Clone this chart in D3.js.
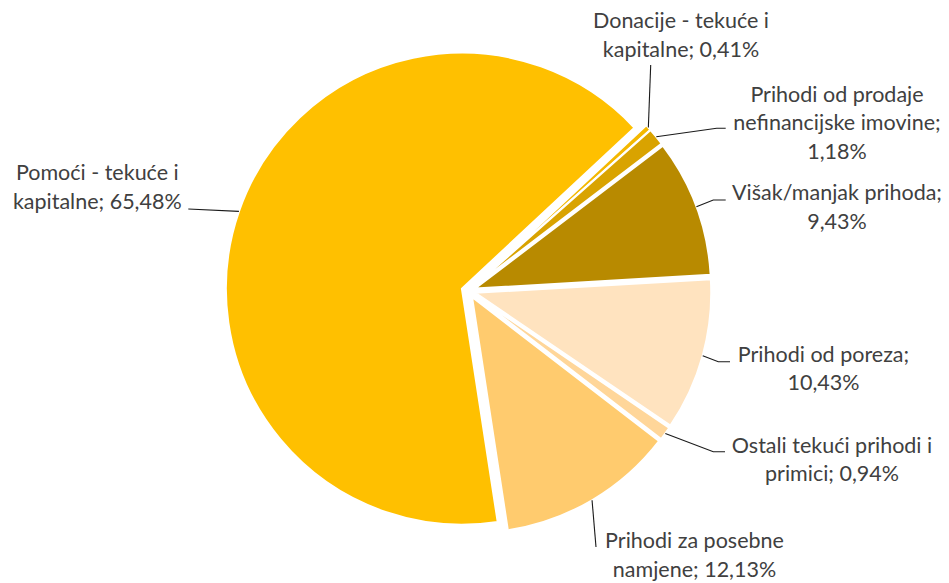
<!DOCTYPE html>
<html>
<head>
<meta charset="utf-8">
<script src="https://cdn.jsdelivr.net/npm/d3@7"></script>
<style>
  html, body { margin: 0; padding: 0; background: #fff; }
  svg { display: block; }
</style>
</head>
<body>
<svg id="chart" width="949" height="583"></svg>
<script>
// ---- data ----
const categories = [
  "Donacije - tekuće i kapitalne",
  "Prihodi od prodaje nefinancijske imovine",
  "Višak/manjak prihoda",
  "Prihodi od poreza",
  "Ostali tekući prihodi i primici",
  "Prihodi za posebne namjene",
  "Pomoći - tekuće i kapitalne"
];
const values = [0.41, 1.18, 9.43, 10.43, 0.94, 12.13, 65.48];
const colors = ["#F4B800", "#D9A300", "#B88A00", "#FFE3BF", "#FFD699", "#FFCB6E", "#FFC000"];
// words per label line
const lineBreaks = [[4, 2], [3, 2, 1], [2, 1], [3, 1], [4, 2], [3, 2], [4, 2]];

// ---- layout (not data) ----
const cx = 468.5, cy = 291, R = 236, explode = 7;
const startDeg = 47;
const labelAnchor = [
  [681, 28.3], [837, 101.7], [837, 200], [823.5, 361.7], [832, 452.7], [694.5, 548.3], [97.3, 180]
];
const leaderEnds = [
  [[650.7, 65]],
  [[716.7, 128.3], [725.7, 128.3]],
  [[713.3, 200], [725.7, 200]],
  [[718.3, 361.7], [730, 361.7]],
  [[713.3, 451.7], [725, 451.7]],
  [[596, 547]],
  [[188.3, 209]]
];
const lineH = 28.6;

const svg = d3.select("#chart");
const pie = d3.pie().sort(null).value(d => d)
  .startAngle(startDeg * Math.PI / 180)
  .endAngle(startDeg * Math.PI / 180 + 2 * Math.PI);
const arcs = pie(values);
const arc = d3.arc().innerRadius(0).outerRadius(R);

const g = svg.append("g").attr("transform", `translate(${cx},${cy})`);

arcs.forEach((a, i) => {
  const mid = (a.startAngle + a.endAngle) / 2;
  const ox = explode * Math.sin(mid), oy = -explode * Math.cos(mid);
  g.append("path")
    .attr("d", arc(a))
    .attr("transform", `translate(${ox},${oy})`)
    .attr("fill", colors[i])
    .attr("stroke", "#fff")
    .attr("stroke-width", 2)
    .attr("stroke-linejoin", "round");
});

const fmt = v => v.toFixed(2).replace(".", ",") + "%";
const line = d3.line();

arcs.forEach((a, i) => {
  const mid = (a.startAngle + a.endAngle) / 2;
  const rr = R + explode;
  const sx = cx + rr * Math.sin(mid), sy = cy - rr * Math.cos(mid);
  const pts = [[sx, sy]].concat(leaderEnds[i]);
  svg.append("path")
    .attr("d", line(pts))
    .attr("fill", "none")
    .attr("stroke", "#1a1a1a")
    .attr("stroke-width", 1.1);

  const words = (categories[i] + "; " + fmt(values[i])).split(" ");
  let k = 0;
  const lines = lineBreaks[i].map(n => { const s = words.slice(k, k + n).join(" "); k += n; return s; });
  const t = svg.append("text")
    .attr("text-anchor", "middle")
    .attr("font-family", "Lato, 'Open Sans', sans-serif")
    .attr("font-size", 21.5)
    .attr("fill", "#404040");
  lines.forEach((s, j) => {
    t.append("tspan")
      .attr("x", labelAnchor[i][0])
      .attr("y", labelAnchor[i][1] + j * lineH)
      .text(s);
  });
});
</script>
</body>
</html>
